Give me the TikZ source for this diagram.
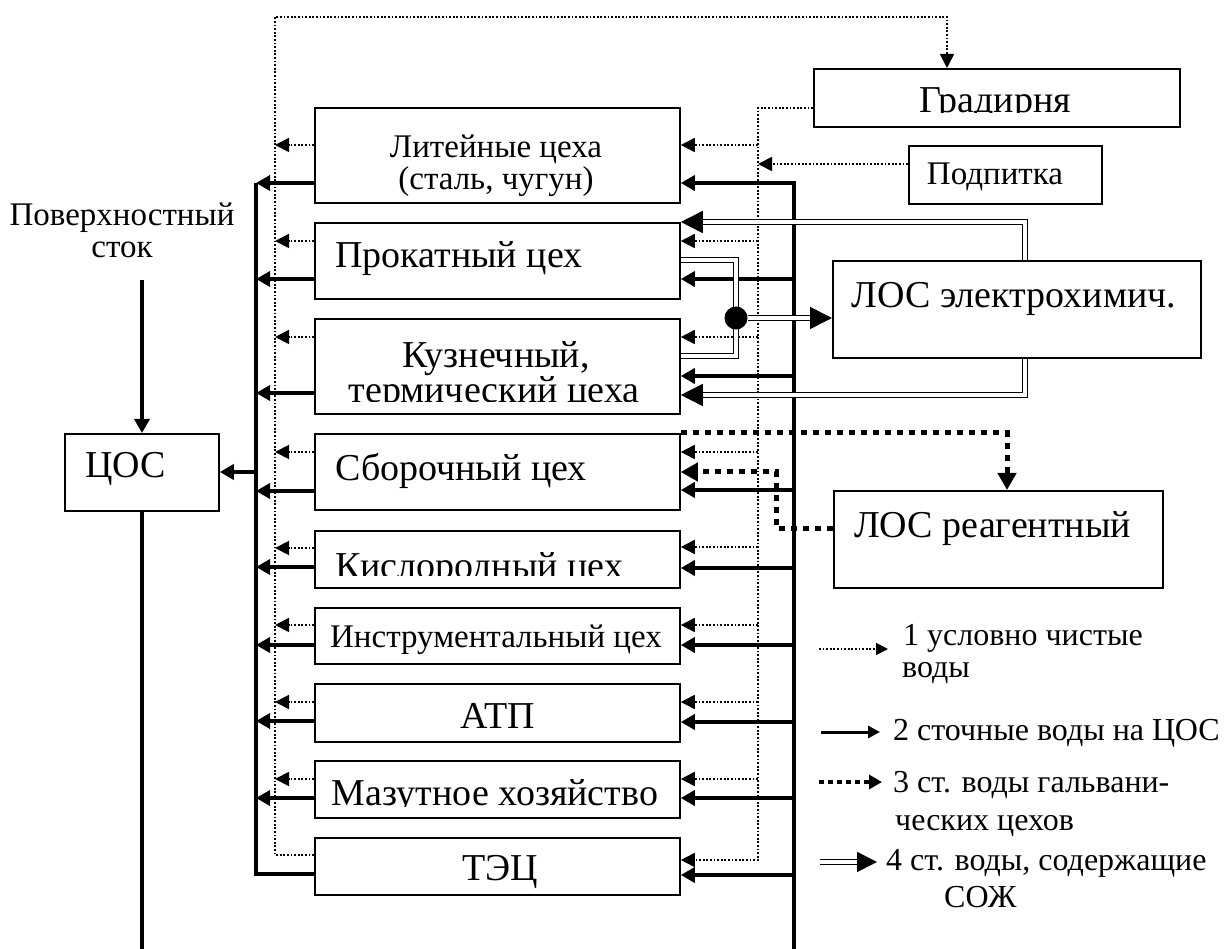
\documentclass[tikz,border=0pt]{standalone}
\usepackage{fontspec}
\setmainfont{Liberation Serif}
\usetikzlibrary{arrows.meta}
\newcommand\fbig{\fontsize{38}{44}\selectfont}
\newcommand\fmid{\fontsize{33}{38}\selectfont}
\newcommand\fleg{\fontsize{32}{37}\selectfont}
\begin{document}
\begin{tikzpicture}[x=1pt,y=-1pt,
 box/.style={draw, line width=1.8pt, inner sep=0pt, anchor=north west},
 lbl/.style={anchor=base, inner sep=0pt},
 lblw/.style={anchor=base west, inner sep=0pt},
 cw/.style={line width=1.8pt, dash pattern=on 1.8pt off 1.8pt},
 cwa/.style={cw, -{Triangle[length=14pt,width=14pt]}},
 sw/.style={line width=3.8pt},
 swa/.style={sw, -{Triangle[length=14pt,width=15pt]}},
 galv/.style={line width=5pt, dash pattern=on 6pt off 6pt},
 galva/.style={galv, -{Triangle[length=17pt,width=18pt]}},
 dbl/.style={double, line width=1.7pt, double distance=3.4pt},
 dbla/.style={dbl, -{Triangle[length=22pt,width=22pt]}},
]
\useasboundingbox (0,0) rectangle (1224,949);

% boxes
\node[box, minimum width=365pt, minimum height=95pt] (lit) at (314,107) {};
\node[box, minimum width=365pt, minimum height=76pt] (prok) at (314,222) {};
\node[box, minimum width=365pt, minimum height=95pt] (kuz) at (314,318) {};
\node[box, minimum width=365pt, minimum height=76pt] (sbor) at (314,433) {};
\node[box, minimum width=365pt, minimum height=57pt] (kisl) at (314,530) {};
\node[box, minimum width=365pt, minimum height=56pt] (instr) at (314,607) {};
\node[box, minimum width=365pt, minimum height=58pt] (atp) at (314,683) {};
\node[box, minimum width=365pt, minimum height=57pt] (maz) at (314,760) {};
\node[box, minimum width=365pt, minimum height=57pt] (tec) at (314,837) {};
\node[box, minimum width=154pt, minimum height=77pt] (cos) at (64,433) {};
\node[box, minimum width=366pt, minimum height=58pt] (grad) at (813,68) {};
\node[box, minimum width=193pt, minimum height=58pt] (podp) at (908,145) {};
\node[box, minimum width=368pt, minimum height=97pt] (losE) at (832,260) {};
\node[box, minimum width=329pt, minimum height=97pt] (losR) at (833,490) {};

% labels
\node[lbl, font=\fmid] (litA) at (496,158) {Литейные цеха};
\node[lbl, font=\fmid] (litB) at (496,190) {(сталь, чугун)};
\node[lblw, font=\fbig] (prokT) at (335,268) {Прокатный цех};
\node[lbl, font=\fbig] (kuzA) at (496,368) {Кузнечный,};
\begin{scope}
\clip (314,318) rectangle (679,402);
\node[lbl, font=\fbig] (kuzB) at (494,403) {термический цеха};
\end{scope}
\node[lblw, font=\fbig] (sborT) at (335,480) {Сборочный цех};
\begin{scope}
\clip (314,530) rectangle (679,575);
\node[lblw, font=\fbig] (kislT) at (335,578) {Кислородный цех};
\end{scope}
\node[lbl, font=\fmid] (instrT) at (496,647) {Инструментальный цех};
\node[lbl, font=\fbig] (atpT) at (498,728) {АТП};
\begin{scope}
\clip (314,760) rectangle (679,806);
\node[lbl, font=\fbig] (mazT) at (495,805) {Мазутное хозяйство};
\end{scope}
\node[lbl, font=\fbig] (tecT) at (500,880) {ТЭЦ};
\node[lblw, font=\fbig] (cosT) at (85,478) {ЦОС};
\node[lbl, font=\fmid] (pvA) at (122,226) {Поверхностный};
\node[lbl, font=\fmid] (pvB) at (122,258) {сток};
\begin{scope}
\clip (813,68) rectangle (1179,113);
\node[lbl, font=\fbig] (gradT) at (995,113) {Градирня};
\end{scope}
\node[lbl, font=\fmid] (podpT) at (995,185) {Подпитка};
\node[lbl, font=\fbig] (losET) at (1014,308) {ЛОС электрохимич.};
\node[lblw, font=\fbig] (losRT) at (854,537) {ЛОС реагентный};

% coordinates of free ends
\coordinate (pv) at (142,280);
\coordinate (cbot) at (142,949);
\coordinate (rbot) at (794,949);

% left collectors
\draw[cwa] (tec.west |- 0,855) -- (275,855) -- (275,17) -- (947,17) -- (grad.north -| 947,0);
\draw[sw] (tec.west |- 0,874) -- (256,874) -- (256,183);
\foreach \s/\y in {lit/145, prok/241, kuz/337, sbor/452, kisl/548, instr/625, atp/702, maz/779}
  \draw[cwa] (\s.west |- 0,\y) -- (275,\y);
\foreach \s/\y in {lit/183, prok/279, kuz/393, sbor/491, kisl/567, instr/645, atp/721, maz/798}
  \draw[swa] (\s.west |- 0,\y) -- (256,\y);
\draw[swa] (256,472) -- (cos.east |- 0,472);
\draw[swa] (pv) -- (pv |- cos.north);
\draw[sw] (cos.south -| cbot) -- (cbot);

% right feeders
\draw[cwa] (grad.west |- 0,108) -- (758,108) -- (758,860) -- (tec.east |- 0,860);
\draw[cwa] (podp.west |- 0,164) -- (758,164);
\foreach \s/\y in {lit/145, prok/241, kuz/337, sbor/452, kisl/547, instr/625, atp/702, maz/779}
  \draw[cwa] (758,\y) -- (\s.east |- 0,\y);
\draw[swa] (rbot) -- (794,183) -- (lit.east |- 0,183);
\foreach \s/\y in {prok/279, kuz/376, sbor/490, kisl/568, instr/645, atp/722, maz/798, tec/875}
  \draw[swa] (794,\y) -- (\s.east |- 0,\y);

% galvanic
\draw[galva] (sbor.north east) -- (1007,433) -- (losR.north -| 1007,0);
\draw[galva] (losR.west |- 0,528) -- (776,528) -- (776,472) -- (sbor.east |- 0,472);

% coolant (double lines)
\node[circle, minimum size=23pt, inner sep=0pt] (jn) at (736,318) {};
\draw[dbl] (prok.east |- 0,260) -- (736,260) -- (jn.center);
\draw[dbl] (kuz.east |- 0,356) -- (736,356) -- (jn.center);
\fill (jn) circle[radius=11.5pt];
\draw[dbla] (jn.east) -- (losE.west |- jn);
\draw[dbla] (losE.north -| 1025,0) -- (1025,222) -- (prok.east |- 0,222);
\draw[dbla] (losE.south -| 1025,0) -- (1025,395) -- (kuz.east |- 0,395);

% legend
\coordinate (l1a) at (819,649); \coordinate (l1b) at (888,649);
\coordinate (l2a) at (821,732); \coordinate (l2b) at (880,732);
\coordinate (l3a) at (819,782); \coordinate (l3b) at (882,782);
\coordinate (l4a) at (820,862); \coordinate (l4b) at (877,862);
\draw[cw, -{Triangle[length=12pt,width=12pt]}] (l1a) -- (l1b);
\draw[sw, line width=3pt, -{Triangle[length=12pt,width=12pt]}] (l2a) -- (l2b);
\draw[galv, line width=4pt, dash pattern=on 5pt off 4pt, -{Triangle[length=13pt,width=14pt]}] (l3a) -- (l3b);
\draw[dbl, -{Triangle[length=20pt,width=20pt]}] (l4a) -- (l4b);
\node[lblw, font=\fleg] (g1a) at (903,645) {1 условно чистые};
\node[lblw, font=\fleg] (g1b) at (902,677) {воды};
\node[lblw, font=\fleg] (g2) at (893,740) {2 сточные воды на ЦОС};
\node[lblw, font=\fleg] (g3a) at (893,792) {3 ст. воды гальвани-};
\node[lblw, font=\fleg] (g3b) at (895,830) {ческих цехов};
\node[lblw, font=\fleg] (g4a) at (886,870) {4 ст. воды, содержащие};
\node[lblw, font=\fleg] (g4b) at (944,907) {СОЖ};
\end{tikzpicture}
\end{document}
